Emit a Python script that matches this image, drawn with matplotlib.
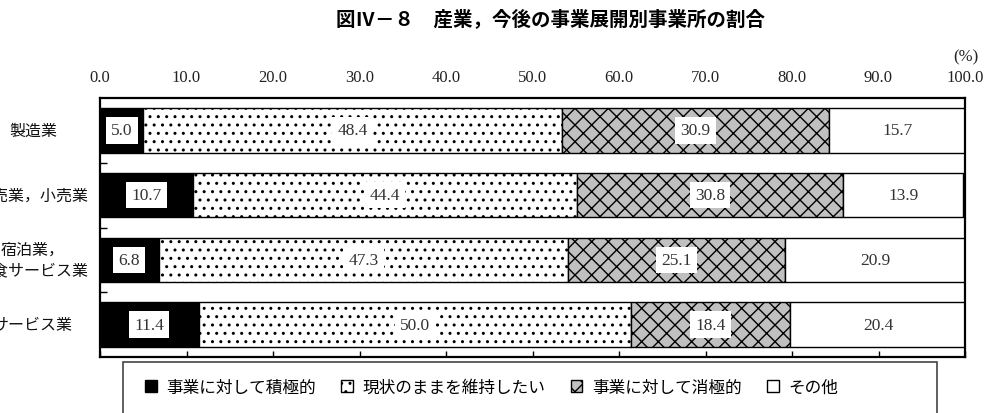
import numpy as np
import matplotlib
matplotlib.use('Agg')
import matplotlib.pyplot as plt
import matplotlib.transforms as mtrans
from matplotlib.patches import Patch, Rectangle

# Schriften
plt.rcParams['font.family'] = ['Noto Sans CJK JP', 'DejaVu Sans']
plt.rcParams['hatch.linewidth'] = 1.0

# Daten
kategorien = ['製造業', '卸売業，小売業', '宿泊業，\n飲食サービス業', 'サービス業']
serien = ['事業に対して積極的', '現状のままを維持したい', '事業に対して消極的', 'その他']
sekkyoku = [5.0, 10.7, 6.8, 11.4]
iji = [48.4, 44.4, 47.3, 50.0]
shokyoku = [30.9, 30.8, 25.1, 18.4]
sonota = [15.7, 13.9, 20.9, 20.4]
xticks = [0, 10, 20, 30, 40, 50, 60, 70, 80, 90, 100]

titel = '図Ⅳ－８　産業，今後の事業展開別事業所の割合'

# Stil je Serie
farben = ['black', 'white', '#c0c0c0', 'white']
muster = [None, '..', 'xx', None]

fig = plt.figure(figsize=(9.9, 4.14), dpi=100)
ax = fig.add_axes([100/990, 56/414, 865/990, 259/414])

y = np.arange(len(kategorien))
links = np.zeros(len(kategorien))
for werte, farbe, m in zip([sekkyoku, iji, shokyoku, sonota], farben, muster):
    werte = np.array(werte)
    ax.barh(y, werte, left=links, height=0.69, color=farbe, edgecolor='black',
            hatch=m, linewidth=1.0, zorder=2)
    for yi, l, w in zip(y, links, werte):
        ax.text(l + w/2, yi, f'{w:.1f}', ha='center', va='center',
                family='Liberation Serif', fontsize=12.5, color='#333333', zorder=4,
                bbox=dict(boxstyle='square,pad=0.3', fc='white', ec='none'))
    links = links + werte

ax.set_xlim(0, 100)
ax.set_ylim(3.5, -0.5)

# Achsen
ax.set_xticks(xticks)
ax.tick_params(axis='x', direction='in', length=4, width=1, bottom=True, top=False,
               labelbottom=False)
ax.set_yticks([0.5, 1.5, 2.5])
ax.tick_params(axis='y', direction='in', length=5, width=1, labelleft=False)
for s in ax.spines.values():
    s.set_linewidth(1.6)
    s.set_zorder(5)

sec = ax.secondary_xaxis('top')
sec.set_xticks(xticks)
sec.set_xticklabels([f'{v:.1f}' for v in xticks], family='Liberation Serif',
                    fontsize=12, color='#222222')
sec.tick_params(length=0, pad=9)
sec.spines['top'].set_visible(False)

# Kategorien links
trans = mtrans.blended_transform_factory(ax.transAxes, ax.transData)
for yi, k in zip(y, kategorien):
    ax.text(-0.0775, yi, k, transform=trans, ha='center', va='center',
            fontsize=11.5, color='#111111', linespacing=1.3)

fig.text(551/990, 1 - 19/414, titel, ha='center', va='center',
         fontsize=14, fontweight='bold')
fig.text(978/990, 1 - 57/414, '(%)', ha='right', va='center',
         family='Liberation Serif', fontsize=12, color='#222222')

# Legende
griffe = [Patch(facecolor=f, edgecolor='black', hatch=m, linewidth=1.0)
          for f, m in zip(farben, muster)]
fig.legend(griffe, serien, loc='center left', bbox_to_anchor=(130/990, 26/414),
           ncol=4, frameon=False, fontsize=12, handlelength=0.7, handleheight=0.7,
           handletextpad=0.6, columnspacing=1.5)
fig.patches.append(Rectangle((123/990, -0.02), 814/990, 51/414 + 0.02,
                             transform=fig.transFigure, fill=False,
                             edgecolor='#444444', linewidth=1.2))

fig.savefig('out.png', dpi=100)
